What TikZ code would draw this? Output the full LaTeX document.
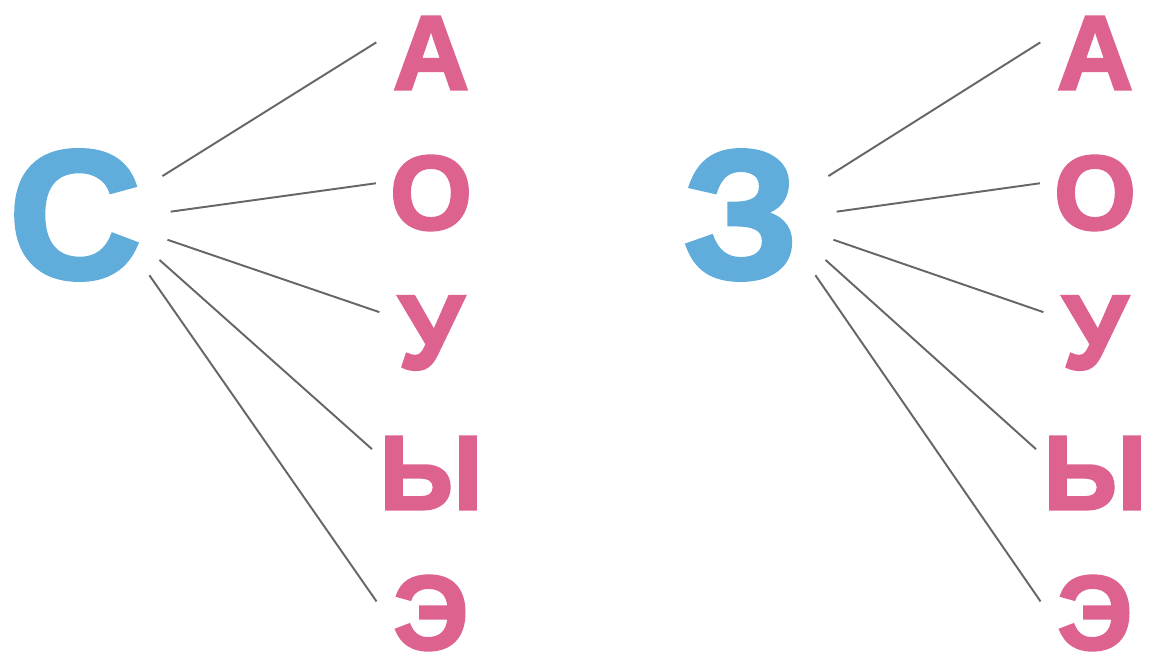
\documentclass[tikz,border=0pt]{standalone}
\usepackage{fontspec}
\newfontfamily\heavyfont[FakeBold=2.5]{Liberation Sans}
\usetikzlibrary{positioning}
\definecolor{consblue}{RGB}{96,172,218}
\definecolor{vowelpink}{RGB}{221,98,144}
\tikzset{
  cons/.style={circle, inner sep=0pt, minimum size=1.9cm, text=consblue,
    font=\heavyfont\bfseries\fontsize{52}{52}\selectfont},
  vowel/.style={circle, inner sep=0pt, minimum size=1.1cm, text=vowelpink,
    font=\heavyfont\bfseries\fontsize{30}{30}\selectfont},
  fan/.style={draw=black!60, line width=0.55pt}
}

\begin{document}
\begin{tikzpicture}[node distance=1.4cm, on grid]
  \useasboundingbox (0,0) rectangle (11.58,6.64);
  % left group
  \node[cons]  (s)  at (0.75,4.49)                      {С};
  \node[vowel] (sa) [above right=1.62cm and 3.56cm of s] {А};
  \node[vowel] (so) [below=of sa]                       {О};
  \node[vowel] (su) [below=of so]                       {У};
  \node[vowel] (sy) [below=of su]                       {Ы};
  \node[vowel] (se) [below=of sy]                       {Э};
  % right group
  \node[cons]  (z)  [right=6.66cm of s]                 {З};
  \node[vowel] (za) [above right=1.62cm and 3.54cm of z] {А};
  \node[vowel] (zo) [below=of za]                       {О};
  \node[vowel] (zu) [below=of zo]                       {У};
  \node[vowel] (zy) [below=of zu]                       {Ы};
  \node[vowel] (ze) [below=of zy]                       {Э};

  \path[fan] (s.24)  edge (sa.169)
             (s.2)   edge (so.170)
             (s.-15) edge (su.158)
             (s.-28) edge (sy.158)
             (s.-39) edge (se.168)
             (z.24)  edge (za.169)
             (z.2)   edge (zo.170)
             (z.-15) edge (zu.158)
             (z.-28) edge (zy.158)
             (z.-39) edge (ze.168);
\end{tikzpicture}
\end{document}
